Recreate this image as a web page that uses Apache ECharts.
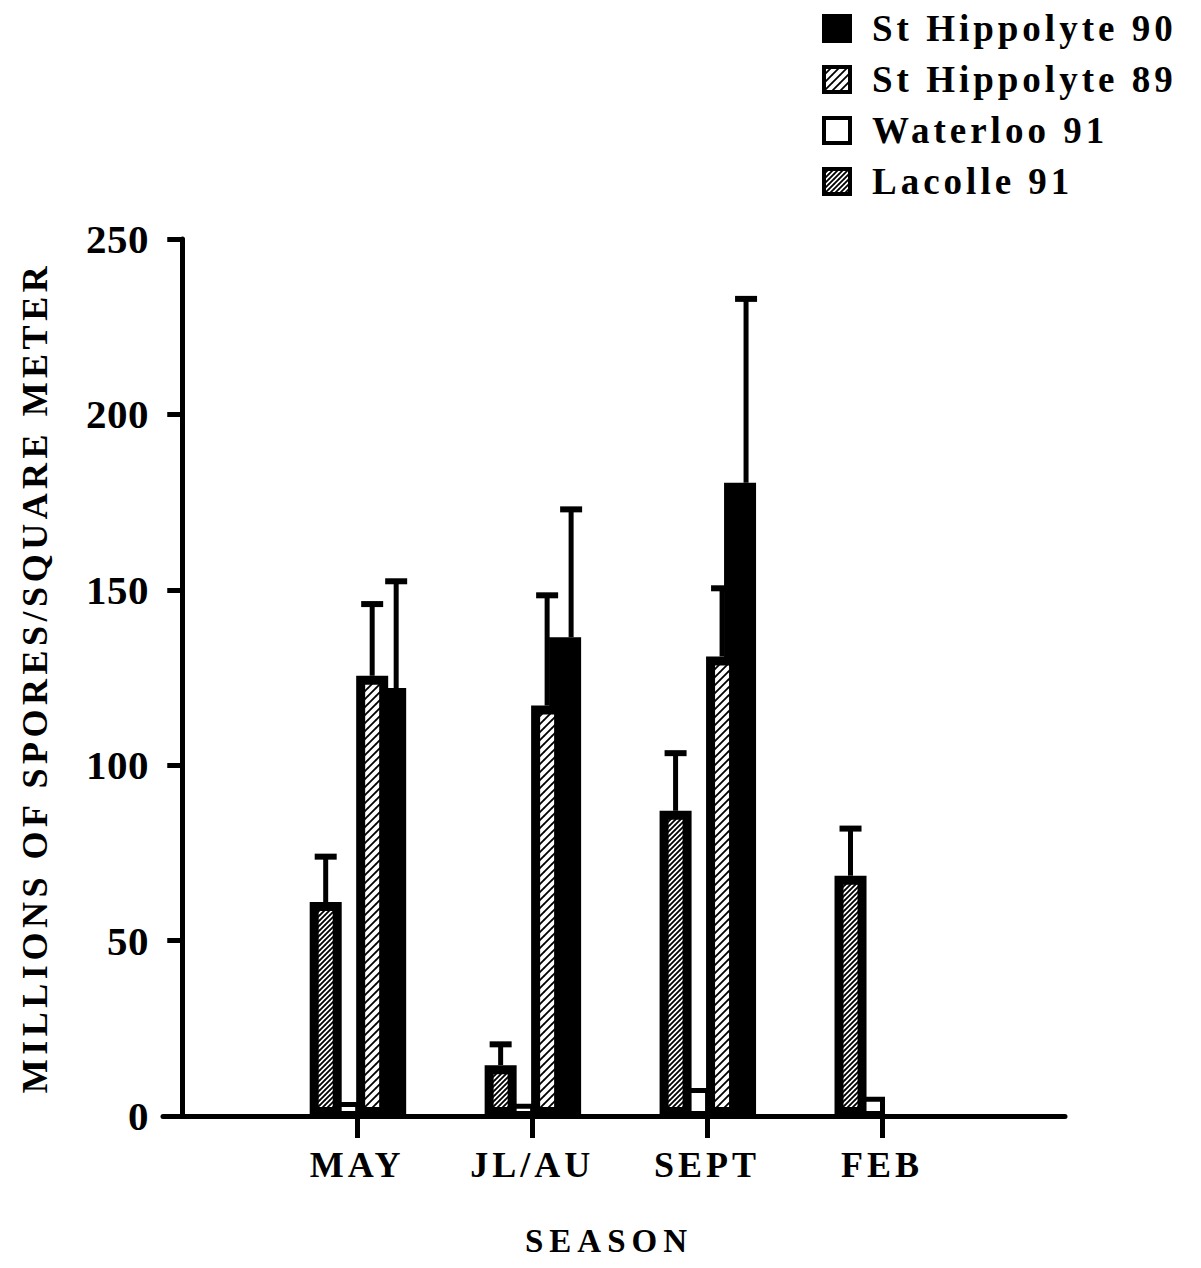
<!DOCTYPE html>
<html><head><meta charset="utf-8">
<script src="https://cdn.jsdelivr.net/npm/echarts@6/dist/echarts.min.js"></script>
<style>html,body{margin:0;padding:0;background:#fff}#main{width:1201px;height:1268px}</style>
</head><body><div id="main"></div>
<script>
// ---- data ----
const categories = ['MAY', 'JL/AU', 'SEPT', 'FEB'];
const seriesNames = ['St Hippolyte 90', 'St Hippolyte 89', 'Waterloo 91', 'Lacolle 91'];
const lacolle91 = [61, 14.5, 87, 68.5];
const lacolle91Err = [13.5, 6.5, 17, 14];
const waterloo91 = [4, 3.5, 8, 5.5];
const stHippolyte89 = [125.5, 117, 131, null];
const stHippolyte89Err = [21, 32, 20, null];
const stHippolyte90 = [122, 136.5, 180.5, null];
const stHippolyte90Err = [31, 37, 53, null];
const yMin = 0, yMax = 250, yStep = 50;
const yTitle = 'MILLIONS OF SPORES/SQUARE METER';
const xTitle = 'SEASON';

// ---- layout / style constants ----
const FONT = "'Liberation Serif', 'Times New Roman', serif";
const UNIT = 175;                       // px per category step
const OFF = { lacolle: -31.5 / UNIT, waterloo: -13 / UNIT, sh89: 15 / UNIT, sh90: 33 / UNIT };
const ERR_OFF = { lacolle: -31.5 / UNIT, sh89: 15 / UNIT, sh90: 39 / UNIT };
const catPos = categories.map((c, i) => i + 1);

function hatch(step, lw) {
  const c = document.createElement('canvas');
  c.width = c.height = step;
  const g = c.getContext('2d');
  g.fillStyle = '#fff'; g.fillRect(0, 0, step, step);
  g.strokeStyle = '#000'; g.lineWidth = lw; g.lineCap = 'square';
  g.beginPath();
  for (let k = -1; k <= 1; k++) { g.moveTo(k * step, step); g.lineTo(k * step + step, 0); }
  g.stroke();
  return { image: c, repeat: 'repeat', imageWidth: step, imageHeight: step };
}
const denseHatch = hatch(5, 1.8);
const sparseHatch = hatch(8, 1.8);

function xAxisDef(show) {
  return {
    type: 'value', min: -0.11, max: 5.046, show: show,
    axisLine: { show: true, onZero: true, lineStyle: { color: '#000', width: 5 } },
    splitLine: { show: false },
    axisTick: { show: true, customValues: catPos, length: 22, lineStyle: { color: '#000', width: 5 } },
    axisLabel: { customValues: catPos, formatter: v => categories[Math.round(v) - 1] || '',
      margin: 31, color: '#000', fontFamily: FONT, fontSize: 36, fontWeight: 'bold' },
    name: show ? xTitle : '', nameLocation: 'middle', nameGap: 108,
    nameTextStyle: { color: '#000', fontFamily: FONT, fontSize: 33, fontWeight: 'bold', padding: [0, 10, 0, 0] }
  };
}

const errData = [];
[[lacolle91, lacolle91Err, ERR_OFF.lacolle], [stHippolyte89, stHippolyte89Err, ERR_OFF.sh89], [stHippolyte90, stHippolyte90Err, ERR_OFF.sh90]]
  .forEach(([vals, errs, off]) => vals.forEach((v, i) => {
    if (v != null && errs[i] != null) errData.push([catPos[i] + off, v, v + errs[i]]);
  }));

const pts = (vals, off) => vals.map((v, i) => [catPos[i] + off, v]);

const chart = echarts.init(document.getElementById('main'), null, { renderer: 'svg' });
chart.setOption({
  animation: false,
  backgroundColor: '#fff',
  grid: { left: 163, right: 136, top: 239, bottom: 152, containLabel: false, outerBoundsMode: 'none' },
  legend: {
    left: 822, top: 10, orient: 'vertical', padding: 0, icon: 'rect',
    itemWidth: 26, itemHeight: 25, itemGap: 14, selectedMode: false,
    data: seriesNames,
    itemStyle: { borderWidth: 4, borderColor: '#000' },
    textStyle: { color: '#000', fontFamily: FONT, fontSize: 37, fontWeight: 'bold', padding: [0, 0, 0, 17] }
  },
  xAxis: [xAxisDef(true), xAxisDef(false), xAxisDef(false), xAxisDef(false)],
  yAxis: {
    type: 'value', min: yMin, max: yMax, interval: yStep,
    axisLine: { show: true, onZero: true, lineStyle: { color: '#000', width: 5 } },
    axisTick: { show: true, length: 15, lineStyle: { color: '#000', width: 5 } },
    splitLine: { show: false },
    axisLabel: { margin: 14, color: '#000', fontFamily: FONT, fontSize: 41, fontWeight: 'bold' },
    name: yTitle, nameLocation: 'middle', nameGap: 110,
    nameTextStyle: { color: '#000', fontFamily: FONT, fontSize: 36, fontWeight: 'bold' }
  },
  series: [
    { type: 'bar', name: 'Waterloo 91', xAxisIndex: 1, barWidth: 32, silent: true,
      data: pts(waterloo91, OFF.waterloo),
      itemStyle: { color: '#fff', borderColor: '#000', borderWidth: 5 } },
    { type: 'bar', name: 'St Hippolyte 90', xAxisIndex: 2, barWidth: 32, silent: true,
      data: pts(stHippolyte90, OFF.sh90),
      itemStyle: { color: '#000', borderColor: '#000', borderWidth: 0 } },
    { type: 'bar', name: 'Lacolle 91', xAxisIndex: 0, barWidth: 32, silent: true,
      data: pts(lacolle91, OFF.lacolle),
      itemStyle: { color: denseHatch, borderColor: '#000', borderWidth: 9 } },
    { type: 'bar', name: 'St Hippolyte 89', xAxisIndex: 3, barWidth: 32, silent: true,
      data: pts(stHippolyte89, OFF.sh89),
      itemStyle: { color: sparseHatch, borderColor: '#000', borderWidth: 9 } },
    { type: 'custom', name: 'error', xAxisIndex: 0, silent: true, z: 3,
      encode: { x: 0, y: [1, 2] },
      data: errData,
      renderItem: function (params, api) {
        const x = api.value(0);
        const p0 = api.coord([x, api.value(1)]);
        const p1 = api.coord([x, api.value(2)]);
        return { type: 'group', children: [
          { type: 'line', shape: { x1: p0[0], y1: p0[1], x2: p1[0], y2: p1[1] + 2 }, style: { stroke: '#000', lineWidth: 5 } },
          { type: 'line', shape: { x1: p1[0] - 11, y1: p1[1] + 2, x2: p1[0] + 11, y2: p1[1] + 2 }, style: { stroke: '#000', lineWidth: 6 } }
        ] };
      } }
  ]
});

// letter spacing to match the wide tracking of the original typeface
function track() {
  document.querySelectorAll('#main svg text').forEach(t => {
    const s = t.textContent;
    let ls = '0.5px';
    if (seriesNames.includes(s)) ls = '4px';
    else if (categories.includes(s)) ls = '4px';
    else if (s === xTitle) ls = '6px';
    else if (s === yTitle) ls = '4.5px';
    t.style.letterSpacing = ls;
  });
}
chart.on('finished', track);
setTimeout(track, 50);
</script></body></html>
